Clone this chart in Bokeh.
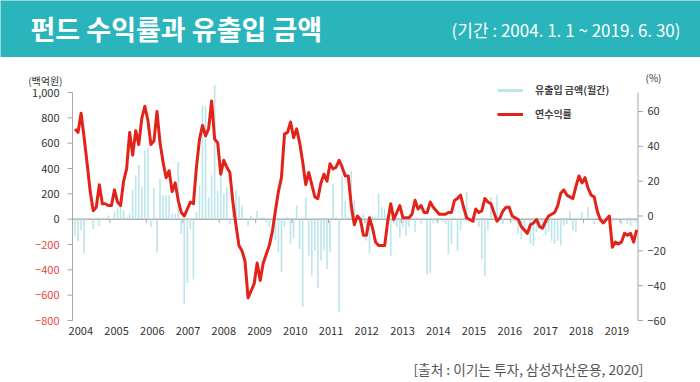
from bokeh.plotting import figure
from bokeh.models import (ColumnDataSource, Range1d, Legend, LegendItem, Label)
from bokeh.layouts import column
from bokeh.embed import file_html
from bokeh.resources import INLINE
from bokeh.core.properties import value

# ---------------- data ----------------
TITLE = "펀드 수익률과 유출입 금액"
PERIOD = "(기간 : 2004. 1. 1 ~ 2019. 6. 30)"
SOURCE = "[출처 : 이기는 투자, 삼성자산운용, 2020]"
LEFT_UNIT = "(백억원)"
RIGHT_UNIT = "(%)"
SERIES_FLOW = "유출입 금액(월간)"
SERIES_RET = "연수익률"

years = list(range(2004, 2020))
year_labels = [str(y) for y in years]

# monthly net flow (백억원)
flow_2004 = [-130, -177, -85, -272, -10, 5, -77, 10, -51, 5, 10, 29]
flow_2005 = [10, 61, 87, 100, 74, 15, 42, 233, 347, 427, 255, 541]
flow_2006 = [560, -64, 249, -264, 320, 188, 188, 188, 42, 42, 453, -118]
flow_2007 = [-670, -503, -77, -476, 55, 265, 897, 890, 173, 344, 1062, 226]
flow_2008 = [347, 200, 255, -38, 186, 226, 178, 107, 10, -51, 29, 5]
flow_2009 = [64, 10, 15, -30, -64, -20, -169, -261, -419, -64, 20, -195]
flow_2010 = [-150, 107, -235, -695, 173, -287, -445, -248, -543, -327, -248, -393]
flow_2011 = [-260, 279, 20, -735, 336, 147, 20, 378, 147, 10, -30, 40]
flow_2012 = [-169, -274, 29, 20, 200, 95, 82, 10, -290, -38, -64, -144]
flow_2013 = [-64, -130, -64, 10, -104, 10, -38, 10, -436, -424, -30, -20]
flow_2014 = [10, -20, -38, -277, -197, 10, -250, -90, 10, 214, 10, 20]
flow_2015 = [-15, -64, -317, -449, -90, 175, 10, 188, 10, -38, 10, 5]
flow_2016 = [-10, -20, -117, -157, -64, 10, -197, -210, -104, -77, -64, -129]
flow_2017 = [-100, -170, -197, -169, -208, -51, -38, 62, -90, -104, 10, 55]
flow_2018 = [10, 99, 10, -38, 10, 5, -10, 5, 10, -20, 10, 5]
flow_2019 = [-38, -11, -38, -51, -20, -30]

# annual return (%)
ret_2004 = [50, 48, 59, 45, 30, 14, 3, 5, 18, 7, 7, 6]
ret_2005 = [6, 15, 8, 6, 20, 27, 48, 35, 49, 41, 56, 63]
ret_2006 = [55, 41, 43, 60, 42, 31, 22, 26, 14, 19, 9, 2]
ret_2007 = [0, 4, 8, 7, 28, 44, 52, 46, 50, 66, 44, 42]
ret_2008 = [24, 32, 28, 25, 8, -5, -17, -20, -26, -47, -43, -39]
ret_2009 = [-27, -37, -27, -22, -17, -9, 3, 14, 22, 47, 48, 54]
ret_2010 = [45, 50, 42, 31, 18, 25, 18, 11, 10, 19, 24, 20]
ret_2011 = [30, 27, 28, 32, 28, 23, 23, 6, -5, 0, -2, -11]
ret_2012 = [-11, -1, -7, -15, -17, -17, -17, -3, 7, -2, 2, 6]
ret_2013 = [-1, -1, -1, 1, 9, 4, 6, 2, 2, 8, 5, 3]
ret_2014 = [1, 1, 1, 2, 2, 9, 10, 12, 5, -1, -2, -3]
ret_2015 = [4, 2, 3, 10, 8, 7, 2, -3, -1, 3, 5, 5]
ret_2016 = [0, -1, -2, -6, -8, -10, -5, -4, -2, -6, -7, -3]
ret_2017 = [0, 1, 2, 6, 13, 15, 12, 11, 10, 17, 23, 19]
ret_2018 = [22, 16, 12, 11, 3, -2, -4, -2, 0, -18, -15, -16]
ret_2019 = [-15, -10, -11, -10, -15, -8]

left_ticks = [-800, -600, -400, -200, 0, 200, 400, 600, 800, 1000]
left_labels = ["−800", "−600", "−400", "−200", "0", "200", "400", "600", "800", "1,000"]
right_ticks = [-60, -40, -20, 0, 20, 40, 60]
right_labels = ["−60", "−40", "−20", "0", "20", "40", "60"]

flows = (flow_2004 + flow_2005 + flow_2006 + flow_2007 + flow_2008 + flow_2009 +
         flow_2010 + flow_2011 + flow_2012 + flow_2013 + flow_2014 + flow_2015 +
         flow_2016 + flow_2017 + flow_2018 + flow_2019)
returns = (ret_2004 + ret_2005 + ret_2006 + ret_2007 + ret_2008 + ret_2009 +
           ret_2010 + ret_2011 + ret_2012 + ret_2013 + ret_2014 + ret_2015 +
           ret_2016 + ret_2017 + ret_2018 + ret_2019)
t = [years[0] + (i + 0.5) / 12 for i in range(len(returns))]

# ---------------- style / geometry ----------------
FONT = "Noto Sans CJK KR"
TEAL = "#2AB5BC"
BAR = "#BDE6EA"
RED = "#E2231A"
NEG_RED = "#E8453C"
AX = "#A8A8A8"
TXT = "#333333"
W = 700
HEAD_H, MAIN_H, FOOT_H = 57, 288, 37
PLOT_TOP = 35                # px from top of main figure to the 1,000 line
PLOT_H = 228                 # px from 1,000 to -800
PLOT_BOT = MAIN_H - PLOT_TOP - PLOT_H

PX_YEAR = 36.43              # px per year
X0 = 73                      # px position of start of 2004


def wx(px):
    return years[0] + (px - X0) / PX_YEAR


L_LO, L_HI = left_ticks[0], left_ticks[-1]
L_PP = (L_HI - L_LO) / PLOT_H
R_LO, R_HI = -60, 70.9
R_PP = (R_HI - R_LO) / PLOT_H
AX_L, AX_R = wx(72), wx(637.5)
TICK = 5 / PX_YEAR

# ---------------- header ----------------
h = figure(width=W, height=HEAD_H, x_range=Range1d(0, W), y_range=Range1d(0, HEAD_H),
           x_axis_type=None, y_axis_type=None, output_backend="svg",
           toolbar_location=None, min_border=0)
h.outline_line_color = None
h.grid.visible = False
h.background_fill_color = TEAL
h.border_fill_color = TEAL
h.add_layout(Label(x=30, y=HEAD_H - 28, text=TITLE, text_font=FONT, text_font_size="27px",
                   text_font_style="bold", text_color="white", text_baseline="middle"))
h.add_layout(Label(x=680, y=HEAD_H - 29, text=PERIOD, text_font=FONT, text_font_size="17px",
                   text_color="white", text_baseline="middle", text_align="right"))

# ---------------- main chart ----------------
p = figure(width=W, height=MAIN_H, x_range=Range1d(wx(0), wx(W)),
           y_range=Range1d(L_LO - PLOT_BOT * L_PP, L_HI + PLOT_TOP * L_PP),
           output_backend="svg", toolbar_location=None, min_border=0,
           x_axis_type=None, y_axis_type=None)
p.outline_line_color = None
p.grid.visible = False
p.extra_y_ranges = {"pct": Range1d(R_LO - PLOT_BOT * R_PP, R_HI + PLOT_TOP * R_PP)}

src = ColumnDataSource(dict(t=t, flow=flows, ret=returns))

# zero line and year ticks
p.segment(x0=[AX_L], y0=[0], x1=[AX_R], y1=[0], line_color=AX, line_width=1.5)
bars = p.vbar(x="t", top="flow", bottom=0, width=0.045, source=src,
              fill_color=BAR, line_color=None)
yr_src = ColumnDataSource(dict(x=years[1:], y0=[0] * (len(years) - 1),
                               y1=[-4 * L_PP] * (len(years) - 1)))
p.segment(x0="x", y0="y0", x1="x", y1="y1", source=yr_src, line_color=AX, line_width=1)

# left axis
p.segment(x0=[AX_L], y0=[L_LO], x1=[AX_L], y1=[L_HI], line_color=AX, line_width=1)
lt_src = ColumnDataSource(dict(
    y=left_ticks, text=left_labels,
    color=[NEG_RED if v < 0 else TXT for v in left_ticks],
    x0=[AX_L] * len(left_ticks), x1=[AX_L - TICK] * len(left_ticks),
    xl=[wx(59)] * len(left_ticks)))
p.segment(x0="x0", y0="y", x1="x1", y1="y", source=lt_src, line_color=AX, line_width=1)
p.text(x="xl", y="y", text="text", source=lt_src, text_color="color",
       text_align="right", text_baseline="middle", text_font=value(FONT),
       text_font_size="11px")

# right axis
p.segment(x0=[AX_R], y0=[R_LO], x1=[AX_R], y1=[R_HI], line_color=AX, line_width=1,
          y_range_name="pct")
rt_src = ColumnDataSource(dict(
    y=right_ticks, text=right_labels,
    x0=[AX_R] * len(right_ticks), x1=[AX_R + TICK] * len(right_ticks),
    xl=[wx(647)] * len(right_ticks)))
p.segment(x0="x0", y0="y", x1="x1", y1="y", source=rt_src, line_color=AX, line_width=1,
          y_range_name="pct")
p.text(x="xl", y="y", text="text", source=rt_src, text_color=TXT, y_range_name="pct",
       text_align="left", text_baseline="middle", text_font=value(FONT),
       text_font_size="11px")

# year labels
xl_src = ColumnDataSource(dict(
    x=[round(2004.2 + i * 0.9813, 3) for i in range(len(years))],
    y=[L_LO - 10 * L_PP] * len(years), text=year_labels))
p.text(x="x", y="y", text="text", source=xl_src, text_color=TXT, text_align="center",
       text_baseline="middle", text_font=value(FONT), text_font_size="11px")

# return line
ln = p.line(x="t", y="ret", source=src, y_range_name="pct", line_color=RED,
            line_width=3, line_join="round")
dummy = p.line(x=[float("nan")], y=[float("nan")], line_color=BAR, line_width=3)

# unit labels
p.text(x=[wx(62)], y=[L_HI + 12 * L_PP], text=[LEFT_UNIT], text_align="right",
       text_baseline="middle", text_font=value(FONT), text_font_size="10px",
       text_color=TXT)
p.text(x=[wx(645)], y=[R_HI + 15 * R_PP], text=[RIGHT_UNIT], text_align="left",
       text_baseline="middle", text_font=value(FONT), text_font_size="10px",
       text_color=TXT, y_range_name="pct")

legend = Legend(items=[LegendItem(label=SERIES_FLOW, renderers=[dummy]),
                       LegendItem(label=SERIES_RET, renderers=[ln])],
                location=(497, 199 + PLOT_BOT), orientation="vertical")
legend.padding = 0
legend.margin = 0
legend.spacing = 9
legend.glyph_width = 26
legend.glyph_height = 12
legend.label_height = 12
legend.label_standoff = 12
legend.border_line_color = None
legend.background_fill_alpha = 0
legend.label_text_font = FONT
legend.label_text_font_size = "10px"
legend.label_text_color = "#444444"
legend.label_text_font_style = "bold"
p.add_layout(legend)

# ---------------- footer ----------------
f = figure(width=W, height=FOOT_H, x_range=Range1d(0, W), y_range=Range1d(0, FOOT_H),
           x_axis_type=None, y_axis_type=None, output_backend="svg",
           toolbar_location=None, min_border=0)
f.outline_line_color = None
f.grid.visible = False
f.add_layout(Label(x=643, y=FOOT_H - 23, text=SOURCE, text_font=FONT, text_font_size="13.7px",
                   text_color="#555555", text_align="right", text_baseline="middle"))

layout = column(h, p, f, spacing=0)
open("out.html", "w").write(file_html(layout, INLINE))
